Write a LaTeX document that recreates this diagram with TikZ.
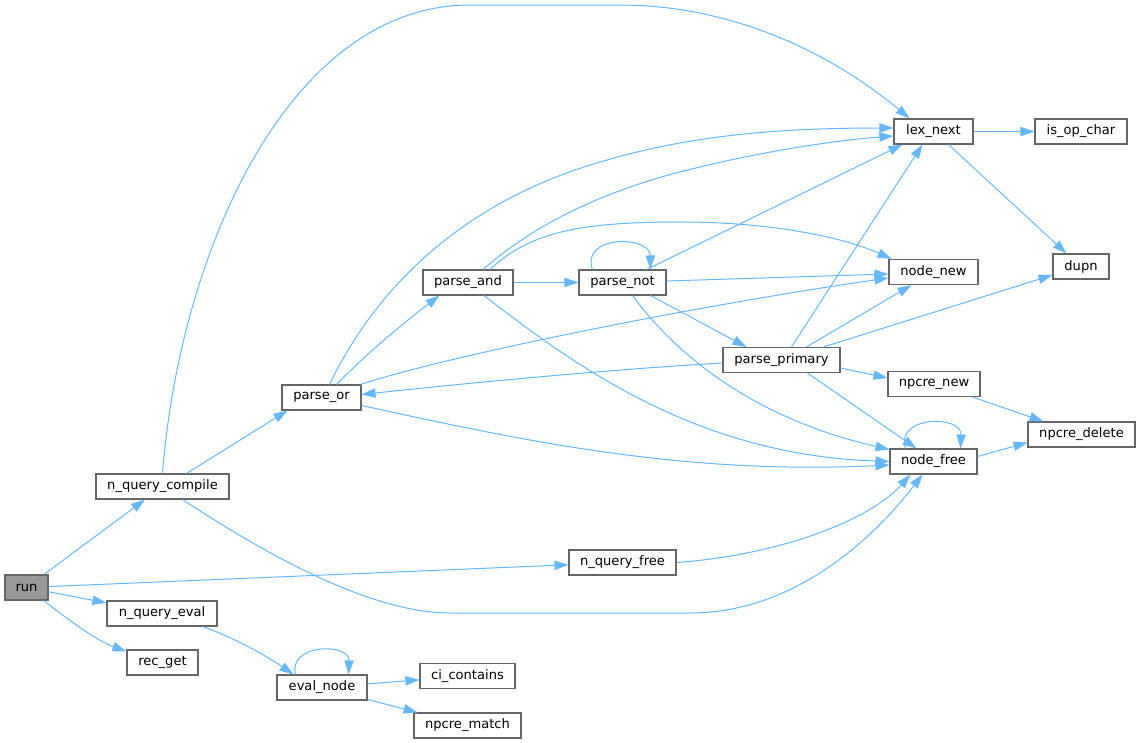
\documentclass[tikz,border=0pt]{standalone}
\usepackage{fontspec}
\setmainfont{DejaVu Sans}
\usetikzlibrary{arrows.meta,calc}
\definecolor{edgec}{HTML}{63B8FF}
\definecolor{boxc}{HTML}{666666}
\definecolor{runfill}{HTML}{999999}
\begin{document}
\begin{tikzpicture}[x=0.75pt,y=-0.75pt,
  fn/.style={draw=boxc,line width=0.8pt,fill=white,rectangle,inner sep=0pt,
    minimum height=18.75pt,font=\fontsize{9.8}{11}\selectfont,text=black},
  e/.style={draw=edgec,line width=0.75pt,
    arrows={-{Triangle[length=10.5pt,width=7pt,fill=edgec]}}}]
\useasboundingbox (0,0) rectangle (1140,743);
% nodes
\node[fn,fill=runfill,minimum width=32.25pt] (run) at (26.5,587.5) {run};
\node[fn,minimum width=99.75pt] (nqc) at (162.5,486.5) {n\_query\_compile};
\node[fn,minimum width=82.5pt] (nqe) at (162,613.5) {n\_query\_eval};
\node[fn,minimum width=53.25pt] (recget) at (162.5,662.5) {rec\_get};
\node[fn,minimum width=67.5pt] (evalnode) at (322,687.5) {eval\_node};
\node[fn,minimum width=59.25pt] (parseor) at (321.5,397.5) {parse\_or};
\node[fn,minimum width=67.5pt] (parseand) at (468,282.5) {parse\_and};
\node[fn,minimum width=65.25pt] (parsenot) at (622.5,282.5) {parse\_not};
\node[fn,minimum width=59.25pt] (lexnext) at (933.5,131.5) {lex\_next};
\node[fn,minimum width=69pt] (isop) at (1081,131.5) {is\_op\_char};
\node[fn,minimum width=66.75pt] (nodenew) at (933.5,272) {node\_new};
\node[fn,minimum width=42pt] (dupn) at (1081,266.5) {dupn};
\node[fn,minimum width=87.75pt] (pprim) at (781.5,360) {parse\_primary};
\node[fn,minimum width=69pt] (npcrenew) at (934,384) {npcre\_new};
\node[fn,minimum width=80.25pt] (npcredel) at (1081.5,434.5) {npcre\_delete};
\node[fn,minimum width=65.25pt] (nodefree) at (933.5,461.5) {node\_free};
\node[fn,minimum width=80.25pt] (nqfree) at (622.5,562.5) {n\_query\_free};
\node[fn,minimum width=71.25pt] (cicont) at (467.5,676) {ci\_contains};
\node[fn,minimum width=80.25pt] (npcrematch) at (467.5,725.5) {npcre\_match};
% edges from run
\draw[e] (run) -- (nqc);
\draw[e] (run) -- (nqfree);
\draw[e] (run) -- (nqe);
\draw[e] ($(run.south east)+(-5,0)$) .. controls (65,617) and (95,640) .. ($(recget.north west)+(0,2)$);
% n_query_eval / eval_node
\draw[e] ($(nqe.south east)+(-15,0)$) .. controls (235,638) and (265,655) .. ($(evalnode.north west)+(17,0)$);
\draw[e] ($(evalnode.north west)+(19,0)$) .. controls (288,643) and (350,643) .. ($(evalnode.north east)+(-19,0)$);
\draw[e] (evalnode) -- (cicont);
\draw[e] (evalnode) -- (npcrematch);
% n_query_compile
\draw[e] ($(nqc.north)+(24,0)$) -- ($(parseor.south west)+(6,0)$);
\draw[e] (nqc.north) .. controls (180,250) and (290,5) .. (470,5) -- (620,5)
  .. controls (740,5) and (840,60) .. ($(lexnext.north west)+(16,0)$);
\draw[e] ($(nqc.south east)+(-47,0)$) .. controls (240,537) and (360,613) .. (450,613) -- (690,613)
  .. controls (800,613) and (880,530) .. ($(nodefree.south)+(-11,0)$);
% n_query_free
\draw[e] (nqfree.east) .. controls (780,555) and (870,520) .. ($(nodefree.south)+(-23,0)$);
% parse_or
\draw[e] ($(parseor.north)+(8,0)$) .. controls (380,280) and (470,200) .. (600,162)
  .. controls (690,135) and (780,128) .. ($(lexnext.west)+(0,-3.5)$);
\draw[e] ($(parseor.north)+(15,0)$) .. controls (370,350) and (410,318) .. ($(parseand.south west)+(17,0)$);
\draw[e] ($(parseor.north east)+(-1,0)$) .. controls (450,355) and (700,305) .. ($(nodenew.west)+(0,6)$);
\draw[e] ($(parseor.east)+(0,8)$) .. controls (520,440) and (680,475) .. ($(nodefree.west)+(0,3.5)$);
% parse_and
\draw[e] ($(parseand.north)+(15,0)$) .. controls (530,228) and (600,190) .. (700,167)
  .. controls (770,150) and (840,140) .. ($(lexnext.west)+(0,4.5)$);
\draw[e] ($(parseand.north)+(22,0)$) .. controls (530,232) and (580,222) .. (680,222)
  .. controls (780,222) and (850,240) .. ($(nodenew.north west)+(3,0)$);
\draw[e] (parseand) -- (parsenot);
\draw[e] ($(parseand.south)+(16,0)$) .. controls (580,370) and (700,455) .. (nodefree.west);
% parse_not
\draw[e] ($(parsenot.north west)+(14,0)$) .. controls (580,235) and (650,235) .. ($(parsenot.north east)+(-16,0)$);
\draw[e] ($(parsenot.north east)+(-20,0)$) -- ($(lexnext.south west)+(9,0)$);
\draw[e] ($(parsenot.east)+(0,-1.5)$) -- ($(nodenew.west)+(0,2)$);
\draw[e] ($(parsenot.south east)+(-16,0)$) -- ($(pprim.north west)+(24,0)$);
\draw[e] ($(parsenot.south)+(10,0)$) .. controls (680,360) and (760,420) .. ($(nodefree.north west)+(0,1)$);
% parse_primary
\draw[e] ($(pprim.west)+(0,3)$) .. controls (600,370) and (450,385) .. ($(parseor.east)+(0,-3)$);
\draw[e] ($(pprim.north west)+(69,0)$) -- ($(lexnext.south west)+(29,0)$);
\draw[e] ($(pprim.north west)+(84,0)$) -- ($(nodenew.south west)+(23,0)$);
\draw[e] ($(pprim.north west)+(101,0)$) -- ($(dupn.west)+(0,8.5)$);
\draw[e] ($(pprim.east)+(0,8)$) -- ($(npcrenew.west)+(0,-6)$);
\draw[e] ($(pprim.south west)+(85,0)$) -- ($(nodefree.north west)+(27,0)$);
% lex_next
\draw[e] (lexnext) -- (isop);
\draw[e] ($(lexnext.south west)+(55,0)$) -- ($(dupn.north west)+(14,0)$);
% npcre / node_free
\draw[e] ($(npcrenew.south east)+(-8,0)$) -- ($(npcredel.north west)+(16,0)$);
\draw[e] ($(nodefree.east)+(0,-5)$) -- ($(npcredel.west)+(0,8)$);
\draw[e] ($(nodefree.north west)+(16,0)$) .. controls (895,415) and (962,415) .. ($(nodefree.north east)+(-17,0)$);
\end{tikzpicture}
\end{document}
